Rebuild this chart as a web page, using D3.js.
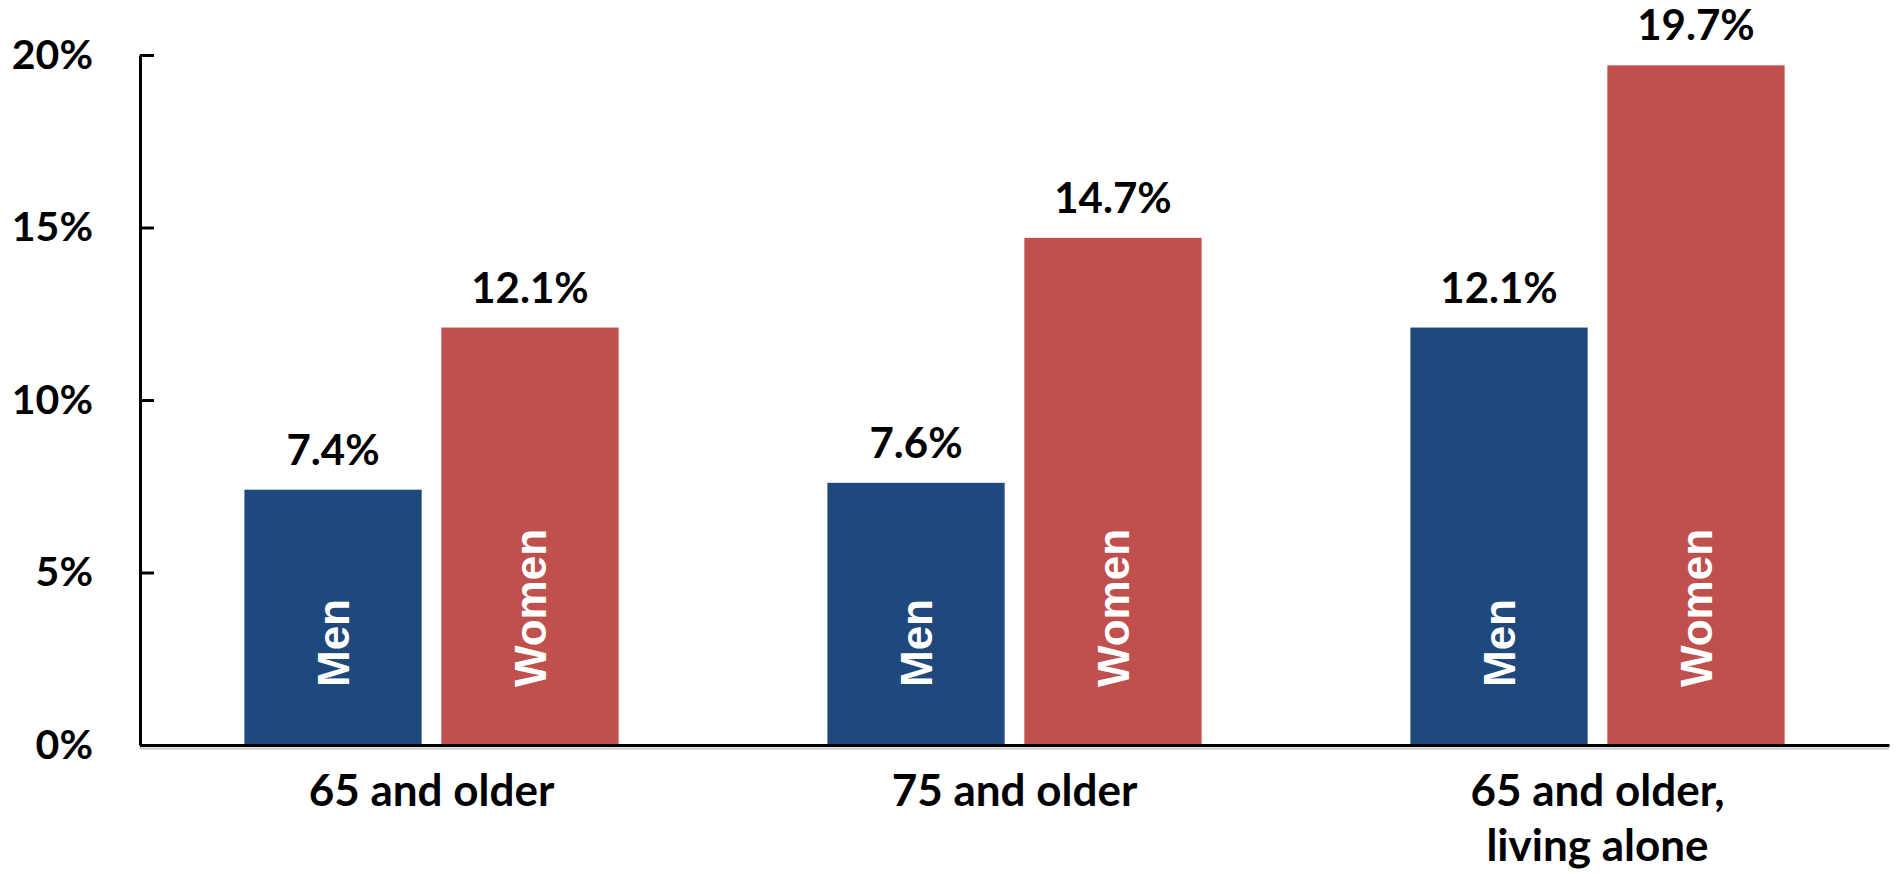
<!DOCTYPE html>
<html>
<head>
<meta charset="utf-8">
<script src="https://cdn.jsdelivr.net/npm/d3@7"></script>
<style>
  body { margin: 0; background: #ffffff; }
  .lbl { font-family: Lato, "Open Sans", sans-serif; font-weight: bold; }
</style>
</head>
<body>
<div id="chart"></div>
<script>
// data
var categories = ["65 and older", "75 and older", "65 and older,|living alone"];
var groups = ["Men", "Women"];
var menValues = [7.4, 7.6, 12.1];
var womenValues = [12.1, 14.7, 19.7];
var yTicks = [0, 5, 10, 15, 20];

var colors = { Men: "#1F497D", Women: "#C0504D" };

var W = 1896, H = 874;
var margin = { top: 55, right: 7, bottom: 129, left: 140 },
    width = W - margin.left - margin.right,
    height = H - margin.top - margin.bottom;

var svg = d3.select("#chart")
    .append("svg")
    .attr("width", W)
    .attr("height", H)
    .append("g")
    .attr("transform", "translate(" + margin.left + "," + margin.top + ")");

var data = categories.map(function(c, i) {
    return { cat: c, Men: menValues[i], Women: womenValues[i] };
});

// scales
var x0 = d3.scaleBand()
    .domain(categories)
    .range([0, width])
    .padding(0);

var x1 = d3.scaleBand()
    .domain(groups)
    .range([0, x0.bandwidth()])
    .paddingInner(0.1)
    .paddingOuter(0.53);

var y = d3.scaleLinear()
    .domain([0, 20])
    .range([height, 0]);

// bars
var grp = svg.selectAll("g.grp")
    .data(data)
    .enter()
    .append("g")
    .attr("class", "grp")
    .attr("transform", function(d) { return "translate(" + x0(d.cat) + ",0)"; });

grp.selectAll("rect")
    .data(function(d) { return groups.map(function(k) { return { key: k, value: d[k] }; }); })
    .enter()
    .append("rect")
    .attr("x", function(d) { return x1(d.key); })
    .attr("y", function(d) { return y(d.value); })
    .attr("width", x1.bandwidth())
    .attr("height", function(d) { return y(0) - y(d.value); })
    .style("fill", function(d) { return colors[d.key]; });

// value labels above bars
grp.selectAll("text.val")
    .data(function(d) { return groups.map(function(k) { return { key: k, value: d[k] }; }); })
    .enter()
    .append("text")
    .attr("class", "val lbl")
    .attr("x", function(d) { return x1(d.key) + x1.bandwidth() / 2; })
    .attr("y", function(d) { return y(d.value) - 25; })
    .attr("text-anchor", "middle")
    .style("font-size", "42px")
    .style("fill", "#000")
    .text(function(d) { return d.value.toFixed(1) + "%"; });

// Men / Women inside bars, rotated
grp.selectAll("text.inbar")
    .data(function(d) { return groups.map(function(k) { return { key: k, value: d[k] }; }); })
    .enter()
    .append("text")
    .attr("class", "inbar")
    .attr("transform", function(d) {
        var cx = x1(d.key) + x1.bandwidth() / 2 + 16;
        return "translate(" + cx + "," + (y(0) - 58) + ") rotate(-90)";
    })
    .attr("text-anchor", "start")
    .style("font-family", "'Liberation Sans', Arial, sans-serif")
    .style("font-weight", "bold")
    .style("font-size", "44px")
    .style("fill", "#ffffff")
    .text(function(d) { return d.key; });

// y axis, ticks pointing inward
var yAxis = svg.append("g")
    .call(d3.axisLeft(y)
        .tickValues(yTicks)
        .tickSizeInner(-14)
        .tickSizeOuter(0)
        .tickPadding(47)
        .tickFormat(function(d) { return d + "%"; }));

yAxis.select(".domain").attr("stroke", "#000").attr("stroke-width", 3);
yAxis.selectAll(".tick line").attr("stroke", "#000").attr("stroke-width", 3);
yAxis.selectAll(".tick text")
    .attr("class", "lbl")
    .style("font-size", "41px")
    .style("fill", "#000");

// x axis baseline with a faint shadow
svg.append("line")
    .attr("x1", 0).attr("x2", width)
    .attr("y1", y(0) + 3.5).attr("y2", y(0) + 3.5)
    .attr("stroke", "#c8c8c8")
    .attr("stroke-width", 2);

var xAxis = svg.append("g")
    .attr("transform", "translate(0," + y(0) + ")")
    .call(d3.axisBottom(x0).tickSize(0).tickFormat(""));

xAxis.select(".domain").attr("stroke", "#000").attr("stroke-width", 3);

// category labels (two lines for the last one)
var catLbl = svg.selectAll("text.cat")
    .data(categories)
    .enter()
    .append("text")
    .attr("class", "cat lbl")
    .attr("text-anchor", "middle")
    .attr("x", function(d) { return x0(d) + x0.bandwidth() / 2; })
    .attr("y", y(0) + 61)
    .style("font-size", "44px")
    .style("fill", "#000");

catLbl.each(function(d) {
    var parts = d.split("|");
    var t = d3.select(this);
    parts.forEach(function(p, i) {
        t.append("tspan")
            .attr("x", t.attr("x"))
            .attr("dy", i === 0 ? 0 : 55)
            .text(p);
    });
});
</script>
</body>
</html>
